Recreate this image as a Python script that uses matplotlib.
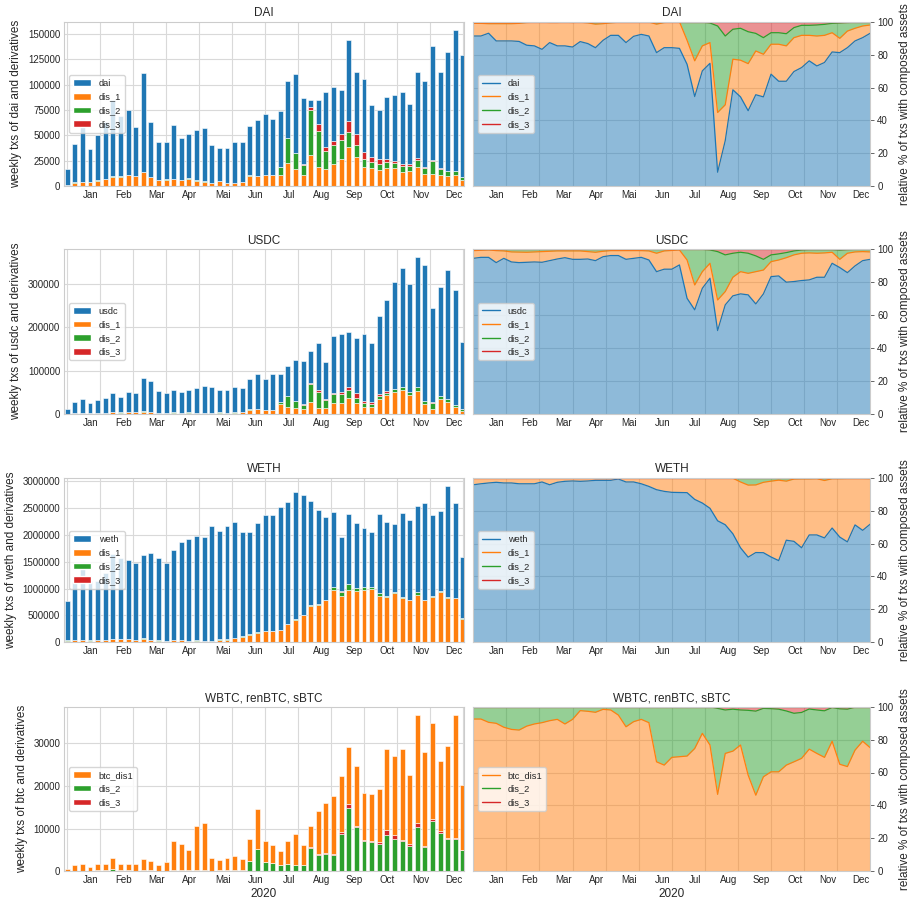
import numpy as np
import matplotlib.pyplot as plt
import seaborn as sns
from matplotlib.patches import Patch
from matplotlib.lines import Line2D

sns.set_style('whitegrid')
plt.rcParams['font.family'] = ['Liberation Sans', 'DejaVu Sans']
plt.rcParams['text.color'] = '.15'

months = ['Jan', 'Feb', 'Mar', 'Apr', 'Mai', 'Jun', 'Jul', 'Aug', 'Sep', 'Oct', 'Nov', 'Dec']
weeks = np.arange(53)

# ---- DAI ----
dai_total = [17000, 42000, 63000, 36500, 50000, 63000, 85000, 69000, 75000, 58500,
             112000, 63000, 44000, 44000, 60000, 47500, 51000, 55000, 57500, 41000,
             37500, 37500, 44000, 44000, 59000, 65000, 71000, 66000, 74000, 104000,
             111000, 86500, 85000, 85000, 93000, 97500, 95000, 144500, 113000, 105500,
             80000, 75000, 88000, 90000, 93000, 81500, 113000, 104000, 138000, 113000,
             132000, 154500, 129000]
dai_pct = [91.3, 91.3, 93, 88.3, 88.3, 88.3, 88, 85.7, 85.3, 83.2,
           87.3, 85.3, 85.3, 84.6, 87.9, 86.7, 84.2, 88.7, 91.7, 91.7,
           87.3, 91.1, 92.3, 91.3, 81.2, 84.2, 84.2, 83.8, 74.1, 54.5,
           70.1, 74.7, 8.5, 27.7, 58.6, 54.3, 45.9, 55.6, 54.3, 68.1,
           63.8, 63.8, 69.7, 72.1, 76.2, 73.1, 75.2, 81.6, 81.2, 84.2,
           88.3, 90.3, 93]
dai_cum1 = [99, 99, 98.8, 98.8, 98.8, 98.8, 99, 99.5, 99.7, 99.7,
            99.5, 99.5, 99.7, 99.5, 99.7, 99.3, 98.5, 98.8, 99.3, 99.7,
            99.7, 99.7, 99.7, 99.8, 98.5, 99.5, 99.8, 100, 88.7, 76.2,
            85.3, 87.3, 44.8, 49.5, 77.2, 76.6, 74.5, 82.2, 80.2, 86.3,
            86.3, 85.3, 90.3, 91.7, 91.7, 91.3, 91.7, 93.3, 89.9, 94.3,
            96, 97.4, 98]
dai_cum2 = [100, 100, 100, 100, 100, 100, 100, 100, 100, 100,
            100, 100, 100, 100, 100, 99.6, 99.5, 99.7, 100, 100,
            100, 100, 100, 100, 99.5, 99.7, 100, 100, 100, 100,
            99.8, 99.2, 97.4, 91.3, 95.4, 96, 93.9, 92.9, 90.3, 93.3,
            93.3, 92.7, 96.4, 97.8, 97.8, 98, 98.4, 99, 99.2, 99.5,
            99.7, 99.7, 100]
dai_yticks = [0, 25000, 50000, 75000, 100000, 125000, 150000]

# ---- USDC ----
usdc_total = [11000, 26500, 35000, 24000, 32500, 36500, 48000, 39500, 49500, 48000,
              84000, 75500, 52000, 48000, 54500, 50500, 54500, 60000, 65500, 61500,
              54500, 54500, 61500, 60000, 79500, 92500, 81500, 92500, 92500, 110500,
              124500, 123000, 145500, 165000, 120500, 180500, 184000, 190500, 176500, 185000,
              165000, 227000, 264000, 306000, 337500, 300000, 363000, 345000, 244000, 293000,
              334000, 287500, 165500]
usdc_pct = [94.5, 95.1, 95.1, 91.9, 94.5, 92.3, 91.9, 92.1, 92.3, 92.1,
            93.1, 94.1, 94.9, 93.9, 93.9, 94.1, 93.1, 95.5, 96.2, 96.2,
            93.9, 94.5, 95.1, 93.5, 86.4, 87.9, 87.9, 90.5, 70.2, 63.2,
            76.3, 82.4, 50.6, 66.2, 71.7, 72.9, 72.3, 66.8, 72.9, 83.4,
            83.8, 80, 80.4, 81, 81.4, 83, 83, 91.5, 88.9, 85.8,
            89.9, 93.1, 93.9]
usdc_cum1 = [99.2, 99.4, 99.6, 99.2, 99, 98.4, 98.3, 98.2, 98.4, 98.6,
             98.8, 99, 99, 99, 99, 98.6, 98.2, 98.8, 99.2, 99.2,
             99.2, 99.2, 99.2, 99, 97.6, 99, 99.3, 99.6, 93.5, 78.3,
             86.4, 91.5, 69.2, 74.3, 83, 86.4, 85.4, 86.4, 87.4, 92.5,
             93.5, 94.9, 96.6, 97.6, 97.8, 97.6, 97.8, 98.2, 93.9, 97.6,
             98.4, 98.6, 98.4]
usdc_cum2 = [100, 100, 100, 100, 100, 100, 100, 100, 100, 100,
             100, 100, 100, 100, 100, 100, 100, 100, 100, 100,
             100, 100, 100, 100, 100, 100, 100, 100, 100, 100,
             100, 99.6, 98.6, 96.6, 97.6, 98.2, 97.6, 96, 93.9, 96.6,
             97.2, 98, 99, 99.6, 99.8, 99.8, 99.8, 99.8, 99.5, 99.8,
             100, 100, 100]
usdc_yticks = [0, 100000, 200000, 300000]

# ---- WETH ----
weth_total = [762000, 1118000, 1356000, 1137000, 1137000, 1290000, 1637000, 1575000, 1525000, 1469000,
              1625000, 1656000, 1575000, 1469000, 1719000, 1869000, 1919000, 1981000, 1969000, 2156000,
              2081000, 2169000, 2231000, 2044000, 2044000, 2212000, 2369000, 2369000, 2525000, 2606000,
              2794000, 2750000, 2625000, 2469000, 2331000, 2419000, 1956000, 2388000, 2219000, 2125000,
              2044000, 2388000, 2244000, 2200000, 2406000, 2281000, 2544000, 2594000, 2369000, 2450000,
              2919000, 2588000, 1594000]
weth_pct = [95.7, 96.3, 96.8, 97.2, 96.8, 96.8, 96.3, 96.3, 96.3, 97.4,
            95.7, 97.2, 97.8, 98, 97.8, 98, 98.4, 98.4, 98.4, 99.2,
            97.4, 97.4, 96.3, 94.7, 92.7, 91.7, 91.1, 91, 90.9, 86.8,
            84.6, 81.4, 73.8, 71.4, 65.9, 57.4, 51.7, 54.5, 54.4, 51.8,
            49.6, 62, 61.3, 57.4, 65.2, 65.2, 63.4, 69.4, 63.9, 61,
            71.3, 68, 71.8]
weth_cum1 = [99.6, 99.6, 99.6, 99.6, 99.6, 99.6, 99.6, 99.6, 99.6, 99.6,
             99.6, 99.6, 99.7, 99.7, 99.7, 99.7, 99.7, 99.7, 99.7, 99.8,
             99.7, 99.7, 99.7, 99.7, 99.7, 99.7, 99.7, 99.7, 99.7, 99.7,
             99.7, 99.7, 99.7, 99.7, 99.7, 97.4, 95.5, 95.6, 97.2, 97.9,
             98.5, 97.9, 99.2, 99.3, 99.3, 99.4, 98.3, 99.4, 99.4, 99.5,
             99.5, 99.5, 99.4]
weth_cum2 = [100, 100, 100, 100, 100, 100, 100, 100, 100, 100,
             100, 100, 100, 100, 100, 100, 100, 100, 100, 100,
             100, 100, 100, 100, 100, 100, 100, 100, 100, 100,
             100, 100, 100, 100, 100, 99.8, 99.7, 99.8, 99.8, 99.8,
             99.8, 100, 100, 100, 100, 100, 100, 100, 100, 100,
             100, 100, 100]
weth_yticks = [0, 500000, 1000000, 1500000, 2000000, 2500000, 3000000]

# ---- BTC (WBTC, renBTC, sBTC) ----
btc_total = [630, 1400, 1650, 1000, 1650, 1650, 3200, 1650, 1650, 1650,
             2750, 2500, 1550, 2100, 7050, 6500, 4900, 10600, 11400, 3000,
             2600, 3000, 3600, 2750, 7500, 14500, 7100, 6100, 4800, 7100,
             8850, 6100, 10600, 14200, 16050, 17700, 22300, 29200, 24700, 18400,
             18100, 19400, 28700, 27000, 28700, 22700, 36800, 28000, 34700, 25900,
             29400, 36600, 20200]
btc_pct = [92.5, 92.5, 90.5, 89.9, 87.5, 86.2, 85.8, 88.2, 89.5, 90.3,
           91.5, 92.3, 89.5, 92.3, 97.6, 97.2, 96.6, 98.4, 98, 94.9,
           87.8, 90.9, 92.3, 90.3, 66.5, 64.5, 69.2, 69.6, 70, 74.6,
           83.8, 76.7, 46.7, 71.6, 73, 76.7, 58.4, 46.2, 57.4, 60.4,
           60.4, 64.5, 66.5, 68.6, 74.2, 71.6, 69.2, 79, 65, 63.6,
           73.6, 79, 75]
btc_cum2 = [100, 100, 100, 100, 100, 100, 100, 100, 100, 100,
            100, 100, 100, 100, 100, 100, 100, 100, 100, 100,
            100, 100, 100, 100, 100, 100, 100, 100, 100, 100,
            100, 100, 99, 98, 98.5, 98, 97.8, 97.3, 99, 98.8,
            98.5, 97.4, 96, 96.5, 98.6, 98, 97.5, 99.5, 98.7, 98.5,
            99.7, 99.7, 100]
btc_yticks = [0, 10000, 20000, 30000]

C_BLUE, C_ORANGE, C_GREEN, C_RED = '#1f77b4', '#ff7f0e', '#2ca02c', '#d62728'

W, H = 911, 901
fig = plt.figure(figsize=(W / 100, H / 100), dpi=100)
row_tops = [21.7, 249.3, 477.7, 706.7]
row_h = 164.5
month_len = 52 / 12


def px_axes(x0, top, w, h):
    return fig.add_axes([x0 / W, 1 - (top + h) / H, w / W, h / H])


def month_axis(ax):
    ax.set_xticks([k * month_len for k in range(13)])
    ax.set_xticklabels([])
    ax.set_xticks([(k + 0.715) * month_len for k in range(12)], minor=True)
    ax.set_xticklabels(months, minor=True)
    ax.tick_params(axis='x', which='both', length=0, labelsize=7, labelcolor='.15', pad=3)
    ax.grid(True, which='major', color='.85', lw=0.8)
    for s in ax.spines.values():
        s.set_color('.8')
        s.set_linewidth(0.8)


def draw_row(r, title, ylab, total, parts, names, colors, order, yticks):
    top = row_tops[r]
    # absolute weekly counts
    ax = px_axes(64.3, top, 399.4, row_h)
    vals = [np.array(total) * np.array(p) / 100 for p in parts]
    bottom = np.zeros(len(total))
    for k in order:
        ax.bar(weeks, vals[k], 0.65, bottom=bottom, color=colors[k],
               edgecolor='white', linewidth=0.4)
        bottom = bottom + vals[k]
    ax.set_xlim(-0.38, 52.1)
    ax.set_yticks(yticks)
    ax.ticklabel_format(axis='y', style='plain', useOffset=False)
    ax.tick_params(axis='y', length=0, labelsize=7, labelcolor='.15', pad=3)
    month_axis(ax)
    ax.set_title(title, fontsize=8.5, pad=4)
    ax.set_ylabel(ylab, fontsize=8.5, color='.15', labelpad=4)
    handles = [Patch(facecolor=c) for c in colors]
    ax.legend(handles, names, loc='center left', fontsize=6.7, handlelength=2.0,
              edgecolor='.8', framealpha=0.8)

    # relative share
    ax2 = px_axes(473.3, top, 397, row_h)
    lower = np.zeros(len(total))
    for p, c in zip(parts, colors):
        upper = lower + np.array(p)
        ax2.fill_between(weeks, lower, upper, color=c, alpha=0.5, lw=0)
        ax2.plot(weeks, upper, color=c, lw=0.9)
        lower = upper
    ax2.set_xlim(0, 52)
    ax2.set_ylim(0, 100)
    ax2.set_yticks([0, 20, 40, 60, 80, 100])
    ax2.yaxis.tick_right()
    ax2.yaxis.set_label_position('right')
    ax2.tick_params(axis='y', right=True, left=False, length=3, width=0.7, color='.4',
                    labelsize=7, labelcolor='.15', pad=2)
    month_axis(ax2)
    ax2.set_title(title, fontsize=8.5, pad=4)
    ax2.set_ylabel('relative % of txs with composed assets', fontsize=8.5, color='.15',
                   labelpad=4)
    handles = [Line2D([], [], color=c, lw=1) for c in colors]
    ax2.legend(handles, names, loc='center left', fontsize=6.7, handlelength=2.0,
               edgecolor='.8', framealpha=0.8)
    return ax, ax2


def four_parts(main, cum1, cum2):
    main, cum1, cum2 = np.array(main), np.array(cum1), np.array(cum2)
    return [main, cum1 - main, cum2 - cum1, 100 - cum2]


four_names = ['dis_1', 'dis_2', 'dis_3']
four_colors = [C_BLUE, C_ORANGE, C_GREEN, C_RED]

draw_row(0, 'DAI', 'weekly txs of dai and derivatives', dai_total,
         four_parts(dai_pct, dai_cum1, dai_cum2), ['dai'] + four_names,
         four_colors, [1, 2, 3, 0], dai_yticks)
draw_row(1, 'USDC', 'weekly txs of usdc and derivatives', usdc_total,
         four_parts(usdc_pct, usdc_cum1, usdc_cum2), ['usdc'] + four_names,
         four_colors, [1, 2, 3, 0], usdc_yticks)
draw_row(2, 'WETH', 'weekly txs of weth and derivatives', weth_total,
         four_parts(weth_pct, weth_cum1, weth_cum2), ['weth'] + four_names,
         four_colors, [1, 2, 3, 0], weth_yticks)

btc_parts = [np.array(btc_pct), np.array(btc_cum2) - np.array(btc_pct),
             100 - np.array(btc_cum2)]
axl, axr = draw_row(3, 'WBTC, renBTC, sBTC', 'weekly txs of btc and derivatives', btc_total,
                    btc_parts, ['btc_dis1', 'dis_2', 'dis_3'],
                    [C_ORANGE, C_GREEN, C_RED], [1, 2, 0], btc_yticks)
axl.set_xlabel('2020', fontsize=8.5, color='.15', labelpad=2)
axr.set_xlabel('2020', fontsize=8.5, color='.15', labelpad=2)

fig.savefig('out.png', dpi=100)
